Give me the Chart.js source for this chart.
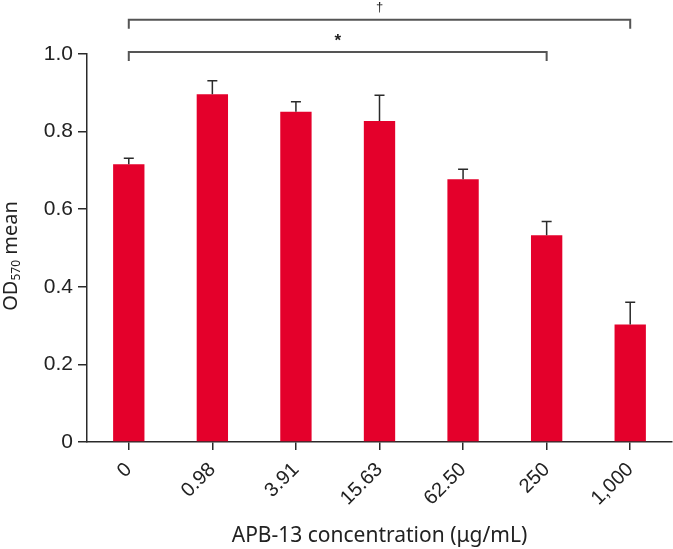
<!DOCTYPE html>
<html>
<head>
<meta charset="utf-8">
<script src="https://cdn.jsdelivr.net/npm/chart.js@4.4.1/dist/chart.umd.min.js"></script>
<style>
  html, body { margin: 0; padding: 0; background: #fff; }
  #wrap { width: 673px; height: 549px; }
</style>
</head>
<body>
<div id="wrap"><canvas id="c" width="673" height="549"></canvas></div>
<script>
// ---- data ----
const categories = ['0', '0.98', '3.91', '15.63', '62.50', '250', '1,000'];
const means = [0.716, 0.896, 0.851, 0.827, 0.677, 0.533, 0.303];
const errors = [0.015, 0.035, 0.026, 0.067, 0.026, 0.035, 0.057];
const yTickValues = [0, 0.2, 0.4, 0.6, 0.8, 1.0];
const yTickLabels = ['0', '0.2', '0.4', '0.6', '0.8', '1.0'];
const bracketFrom = [0, 0];
const bracketTo = [6, 5];
const bracketLevel = [1.088, 1.005];
const bracketLabel = ['\u2020', '*'];
const xTitle = 'APB-13 concentration (\u03bcg/mL)';
const yTitleMain = 'OD';
const yTitleSub = '570';
const yTitleRest = ' mean';

const BAR = 'rgb(228,0,43)';
const INK = '#2a2a2a';
const TICKFONT = '"Liberation Sans", Arial, Helvetica, sans-serif';
const TITLEFONT = '"Noto Sans", "Open Sans", sans-serif';

const overlay = {
  id: 'overlay',
  afterDatasetsDraw(chart) {
    const ctx = chart.ctx;
    const x = chart.scales.x, y = chart.scales.y;
    ctx.save();
    ctx.strokeStyle = INK;
    ctx.lineWidth = 1.5;
    means.forEach((m, i) => {
      const px = x.getPixelForValue(i);
      const top = y.getPixelForValue(m + errors[i]);
      const base = y.getPixelForValue(m);
      ctx.beginPath();
      ctx.moveTo(px, base);
      ctx.lineTo(px, top);
      ctx.moveTo(px - 5, top);
      ctx.lineTo(px + 5, top);
      ctx.stroke();
    });
    ctx.restore();
  },
  afterDraw(chart) {
    const ctx = chart.ctx;
    const x = chart.scales.x, y = chart.scales.y;
    const area = chart.chartArea;
    ctx.save();
    ctx.strokeStyle = '#555555';
    ctx.lineWidth = 2;
    ctx.fillStyle = '#222';
    for (let k = 0; k < bracketFrom.length; k++) {
      const x1 = x.getPixelForValue(bracketFrom[k]);
      const x2 = x.getPixelForValue(bracketTo[k]);
      const py = y.getPixelForValue(bracketLevel[k]);
      ctx.beginPath();
      ctx.moveTo(x1, py + 9);
      ctx.lineTo(x1, py);
      ctx.lineTo(x2, py);
      ctx.lineTo(x2, py + 9);
      ctx.stroke();
      ctx.textAlign = 'center';
      ctx.textBaseline = 'bottom';
      if (bracketLabel[k] === '*') {
        ctx.font = 'bold 17px ' + TICKFONT;
        ctx.fillText(bracketLabel[k], (x1 + x2) / 2, py - 2);
      } else {
        ctx.font = '13px ' + TICKFONT;
        ctx.fillText(bracketLabel[k], (x1 + x2) / 2, py - 6);
      }
    }
    // x title
    ctx.fillStyle = '#222';
    ctx.font = '21px ' + TITLEFONT;
    ctx.textAlign = 'center';
    ctx.textBaseline = 'alphabetic';
    ctx.fillText(xTitle, (area.left + area.right) / 2, 542);
    // y title with subscript
    ctx.translate(17, 256);
    ctx.rotate(-Math.PI / 2);
    const fMain = '20px ' + TITLEFONT;
    const fSub = '12px ' + TITLEFONT;
    ctx.font = fMain;
    const w1 = ctx.measureText(yTitleMain).width;
    const w3 = ctx.measureText(yTitleRest).width;
    ctx.font = fSub;
    const w2 = ctx.measureText(yTitleSub).width;
    const sx = -(w1 + w2 + w3) / 2;
    ctx.textAlign = 'left';
    ctx.font = fMain;
    ctx.fillText(yTitleMain, sx, 0);
    ctx.font = fSub;
    ctx.fillText(yTitleSub, sx + w1, 3);
    ctx.font = fMain;
    ctx.fillText(yTitleRest, sx + w1 + w2, 0);
    ctx.restore();
  }
};

new Chart(document.getElementById('c'), {
  type: 'bar',
  data: {
    labels: categories,
    datasets: [{
      data: means,
      backgroundColor: BAR,
      borderWidth: 0,
      barPercentage: 0.375,
      categoryPercentage: 1.0
    }]
  },
  options: {
    responsive: false,
    animation: false,
    devicePixelRatio: 1,
    layout: { padding: { top: 54, right: 1, left: 0, bottom: 0 } },
    plugins: { legend: { display: false }, tooltip: { enabled: false } },
    scales: {
      x: {
        grid: { display: true, offset: false, drawOnChartArea: false, drawTicks: true, tickLength: 8, color: INK, lineWidth: 1.5 },
        border: { display: true, color: INK, width: 1.5 },
        ticks: {
          color: '#222',
          font: { family: TICKFONT, size: 20 },
          minRotation: 45, maxRotation: 45, padding: 8
        },
        afterFit(s) { s.height = 107; }
      },
      y: {
        min: 0, max: 1.0,
        afterBuildTicks(s) { s.ticks = yTickValues.map(v => ({ value: v })); },
        grid: { display: true, drawOnChartArea: false, drawTicks: true, tickLength: 9, color: INK, lineWidth: 1.5 },
        border: { display: true, color: INK, width: 1.5 },
        ticks: {
          color: '#222',
          font: { family: TICKFONT, size: 21 },
          padding: 5,
          callback(v, i) { return yTickLabels[i]; }
        },
        afterFit(s) { s.width = 87; }
      }
    }
  },
  plugins: [overlay]
});
</script>
</body>
</html>
